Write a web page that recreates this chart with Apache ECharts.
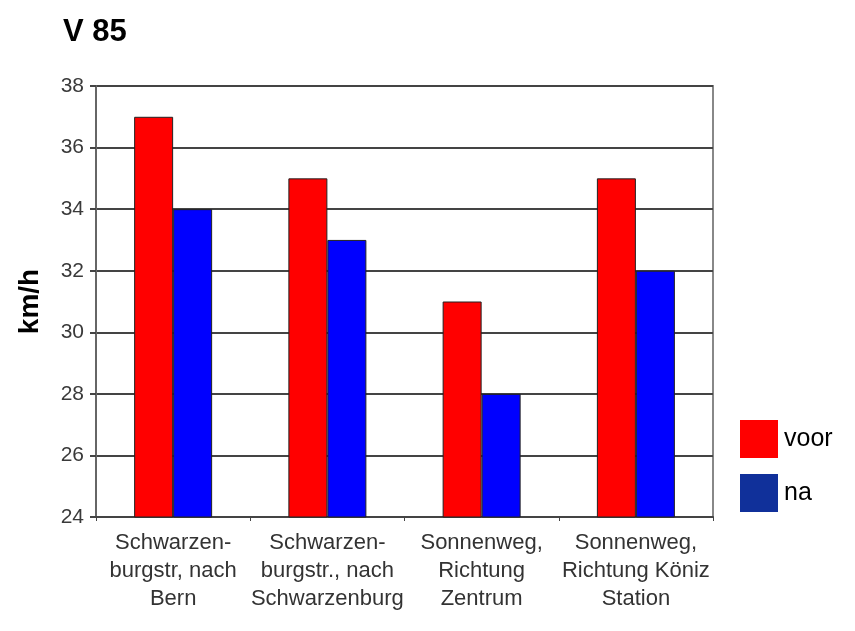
<!DOCTYPE html>
<html>
<head>
<meta charset="utf-8">
<script src="https://cdn.jsdelivr.net/npm/echarts@6/dist/echarts.min.js"></script>
<style>html,body{margin:0;padding:0;background:#fff}#c{width:855px;height:631px}</style>
</head>
<body>
<div id="c"></div>
<script>
var categories = ['Schwarzen-\nburgstr, nach\nBern', 'Schwarzen-\nburgstr., nach\nSchwarzenburg', 'Sonnenweg,\nRichtung\nZentrum', 'Sonnenweg,\nRichtung Köniz\nStation'];
var voor = [37, 35, 31, 35];
var na = [34, 33, 28, 32];
var yTicks = [24, 26, 28, 30, 32, 34, 36, 38];

var chart = echarts.init(document.getElementById('c'));
var font = '"Liberation Sans", Arial, sans-serif';
chart.setOption({
  backgroundColor: '#fff',
  animation: false,
  title: {
    text: 'V 85', left: 58, top: 12,
    textStyle: {fontFamily: font, fontSize: 31, fontWeight: 'bold', color: '#000'}
  },
  legend: {
    orient: 'vertical', left: 740, top: 420, padding: 0, itemWidth: 38, itemHeight: 38, itemGap: 16,
    icon: 'rect',
    textStyle: {fontFamily: font, fontSize: 25, color: '#000', padding: [0, 0, 0, 1]},
    data: [
      {name: 'voor', itemStyle: {color: '#ff0000', borderWidth: 0}},
      {name: 'na', itemStyle: {color: '#10309a', borderWidth: 0}}
    ]
  },
  grid: {left: 96, right: 142, top: 86, bottom: 114, show: true, borderColor: '#888', borderWidth: 2, backgroundColor: '#fff'},
  xAxis: {
    type: 'category', data: categories,
    axisLine: {lineStyle: {color: '#444', width: 2}},
    axisTick: {show: true, length: 4, lineStyle: {color: '#444', width: 1}},
    axisLabel: {fontFamily: font, fontSize: 22, color: '#333', lineHeight: 28, margin: 12, interval: 0}
  },
  yAxis: {
    type: 'value', min: yTicks[0], max: yTicks[yTicks.length - 1], interval: 2,
    name: 'km/h', nameLocation: 'middle', nameGap: 52, nameRotate: 90,
    nameTextStyle: {fontFamily: font, fontSize: 28, fontWeight: 'bold', color: '#000'},
    axisLine: {show: true, lineStyle: {color: '#666', width: 2}},
    axisTick: {show: true, length: 6, lineStyle: {color: '#444', width: 2}},
    axisLabel: {fontFamily: font, fontSize: 21, color: '#3a3a3a', margin: 12},
    splitLine: {show: true, lineStyle: {color: '#444', width: 2}}
  },
  series: [
    {name: 'voor', type: 'bar', data: voor, barWidth: 39, barGap: '0%',
     itemStyle: {color: '#ff0000', borderColor: '#222', borderWidth: 1}},
    {name: 'na', type: 'bar', data: na, barWidth: 39, barGap: '0%',
     itemStyle: {color: '#0000ff', borderColor: '#222', borderWidth: 1}}
  ]
});
</script>
</body>
</html>
